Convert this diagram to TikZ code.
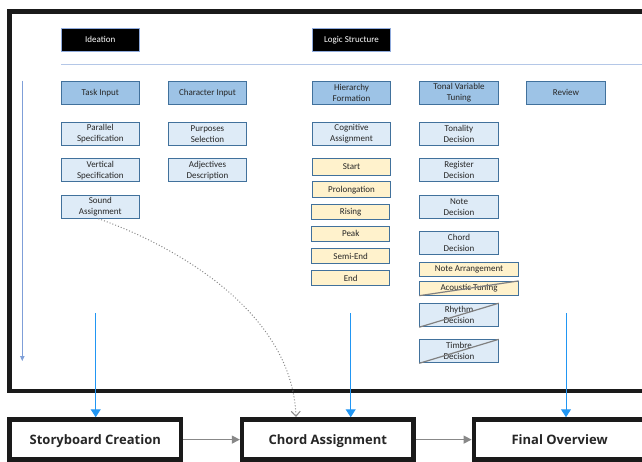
\documentclass[tikz,border=0pt]{standalone}
\usepackage{fontspec}
\setmainfont{Carlito}
\newfontfamily\bigfont{Open Sans}
\usetikzlibrary{arrows.meta}
\definecolor{frameblack}{HTML}{1A1A1A}
\definecolor{primfill}{HTML}{9DC3E6}
\definecolor{lightfill}{HTML}{DEEBF7}
\definecolor{yelfill}{HTML}{FFF2CC}
\definecolor{boxborder}{HTML}{41719C}
\definecolor{headborder}{HTML}{8FAADC}
\definecolor{rulecol}{HTML}{B4C7E7}
\definecolor{vlinecol}{HTML}{7F9FD8}
\definecolor{flowblue}{HTML}{2196F3}
\definecolor{graycol}{HTML}{888888}
\tikzset{
  sbox/.style={draw=boxborder, line width=1pt, inner sep=0pt, align=center,
    font=\fontsize{9}{11}\selectfont, text=black!85},
  primbox/.style={sbox, fill=primfill, minimum width=78.5pt, minimum height=23pt},
  lightbox/.style={sbox, fill=lightfill, minimum width=78.5pt, minimum height=23pt},
  yelbox/.style={sbox, fill=yelfill, minimum width=78.5pt, minimum height=15.5pt},
  headbox/.style={draw=headborder, line width=1pt, fill=black, text=white, inner sep=0pt,
    minimum width=78.5pt, minimum height=23pt, font=\fontsize{9}{11}\selectfont},
  bigbox/.style={draw=frameblack, line width=4.5pt, fill=white, inner sep=0pt,
    minimum width=171.5pt, minimum height=40.2pt, text height=12pt, text depth=2.6pt,
    font=\bigfont\bfseries\fontsize{13}{15}\selectfont, text=black!85},
  flowarrow/.style={draw=flowblue, line width=1pt, -{Triangle[width=10pt,length=8pt]}},
  grayarrow/.style={draw=graycol, line width=1.2pt, -{Triangle[width=8pt,length=8pt]}},
  strike/.style={draw=gray, line width=1.2pt},
}
\begin{document}
\begin{tikzpicture}[x=1pt,y=-1pt]
\useasboundingbox (0,0) rectangle (642,462);
\begin{scope}
\clip (0,0) rectangle (642,462);
% outer frame
\draw[frameblack, line width=4.5pt] (9.7,11.7) rectangle (700,391);
% header rule
\draw[rulecol, line width=1.2pt] (61,64.3) -- (700,64.3);

% headers
\node[headbox] (ideation) at (100.3,39.7) {Ideation};
\node[headbox] (logic) at (351.5,39.7) {Logic Structure};

% column 1
\node[primbox] (task) at (100.3,92.7) {Task Input};
\node[lightbox] (parallel) at (100.3,133.8) {Parallel\\Specification};
\node[lightbox] (vertical) at (100.3,170.3) {Vertical\\Specification};
\node[lightbox] (sound) at (100.3,206.7) {Sound\\Assignment};

% column 2
\node[primbox] (character) at (207.5,92.7) {Character Input};
\node[lightbox] (purposes) at (207.5,133.8) {Purposes\\Selection};
\node[lightbox] (adjectives) at (207.5,170.3) {Adjectives\\Description};

% column 3
\node[primbox] (hierarchy) at (351.5,92.7) {Hierarchy\\Formation};
\node[lightbox] (cognitive) at (351.5,133.8) {Cognitive\\Assignment};
\node[yelbox, minimum height=16.4pt] (start) at (351.5,167) {Start};
\node[yelbox] (prolong) at (351.5,189.7) {Prolongation};
\node[yelbox] (rising) at (350.7,212) {Rising};
\node[yelbox] (peak) at (350.7,233.8) {Peak};
\node[yelbox] (semiend) at (350.7,256) {Semi-End};
\node[yelbox] (end) at (350.7,278.2) {End};

% column 4
\node[primbox] (tonal) at (459,92.7) {Tonal Variable\\Tuning};
\node[lightbox] (tonality) at (459,133.8) {Tonality\\Decision};
\node[lightbox] (register) at (459,170.3) {Register\\Decision};
\node[lightbox] (note) at (459,206.7) {Note\\Decision};
\node[lightbox] (chord) at (459,242.8) {Chord\\Decision};
\node[yelbox, minimum width=98.5pt, minimum height=13.8pt] (arrangement) at (469,269.6) {Note Arrangement};
\node[yelbox, minimum width=98.5pt, minimum height=13.8pt] (acoustic) at (469,288.3) {Acoustic Tuning};
\node[lightbox] (rhythm) at (459,315.2) {Rhythm\\Decision};
\node[lightbox] (timbre) at (459,351.3) {Timbre\\Decision};
\draw[strike] (acoustic.south west) -- (acoustic.north east);
\draw[strike] (rhythm.south west) -- (rhythm.north east);
\draw[strike] (timbre.south west) -- (timbre.north east);

% column 5
\node[primbox] (review) at (566,92.7) {Review};

% left vertical line
\coordinate (vtop) at (22.3,80.7);
\coordinate (vbot) at (22.3,361);
\draw[vlinecol, line width=1pt, -{Triangle[width=4.5pt,length=5pt]}] (vtop) -- (vbot);

% bottom boxes
\node[bigbox] (story) at (95.25,439.6) {Storyboard Creation};
\node[bigbox] (chordassign) at (327.85,439.6) {Chord Assignment};
\node[bigbox] (final) at (559.6,439.6) {Final Overview};

% flow arrows
\coordinate (s1) at (95.7,313.3);
\coordinate (s2) at (350.7,313.3);
\coordinate (s3) at (566,313.3);
\draw[flowarrow] (s1) -- (s1 |- story.north);
\draw[flowarrow] (s2) -- (s2 |- chordassign.north);
\draw[flowarrow] (s3) -- (s3 |- final.north);

\draw[grayarrow] (story.east) -- (chordassign.west);
\draw[grayarrow] (chordassign.east) -- (final.west);

% dotted curve
\coordinate (dend) at (296,417);
\draw[graycol, line width=1pt, dotted, -{Straight Barb[width=9pt,length=5pt]}]
  ([xshift=-2pt]sound.south) .. controls (160,240) and (292,305) .. (dend);
\end{scope}
\end{tikzpicture}
\end{document}
